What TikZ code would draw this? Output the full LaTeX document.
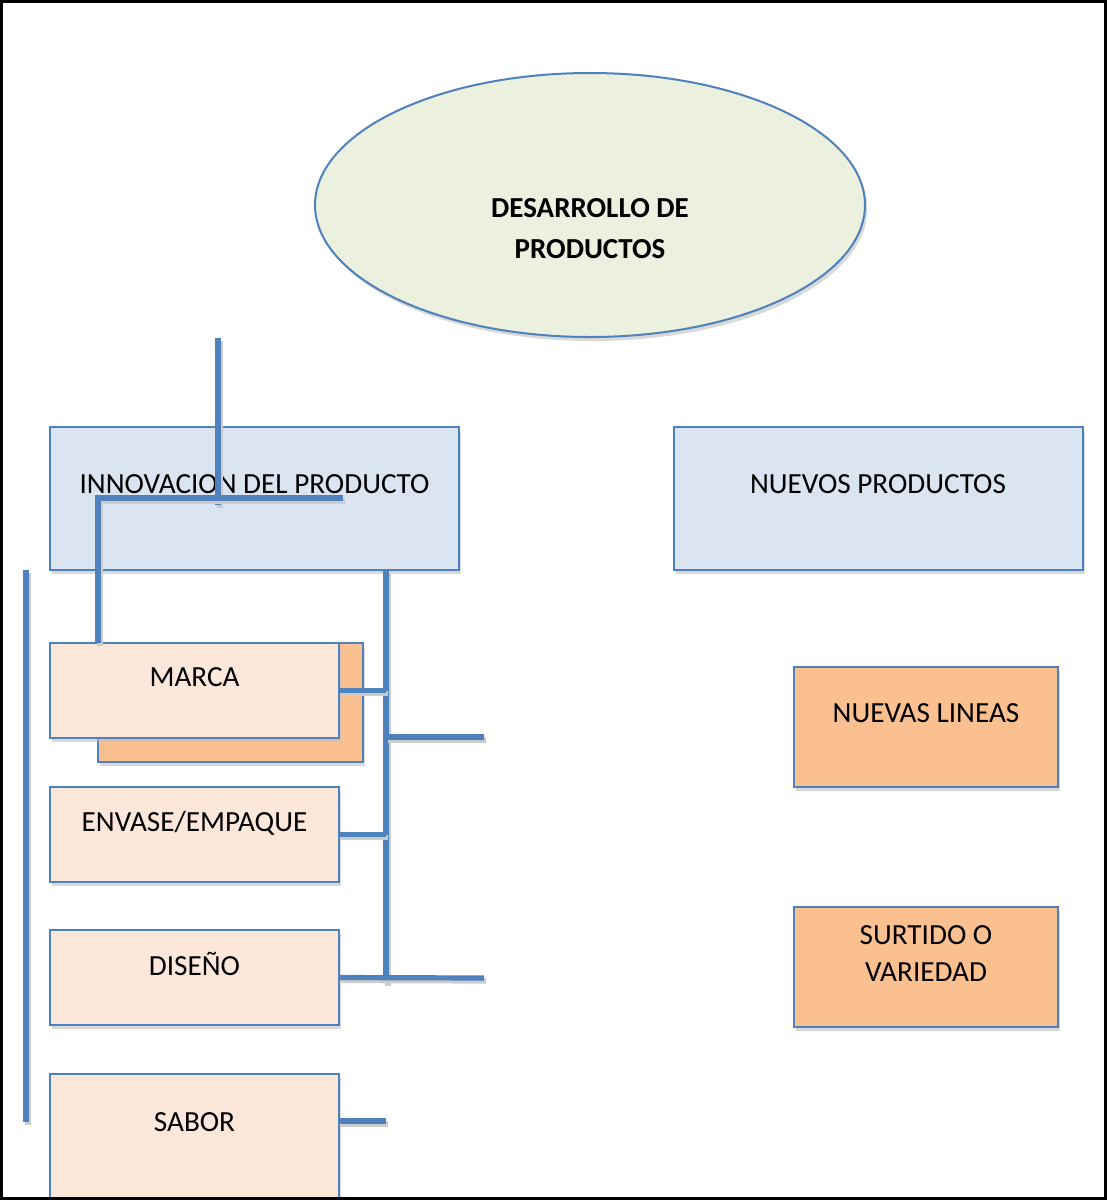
\documentclass[tikz,border=0pt]{standalone}
\usepackage{fontspec}
\setmainfont{Carlito}
\usetikzlibrary{positioning}
\usetikzlibrary{shapes.geometric}
\usetikzlibrary{shadows}
\definecolor{azul}{HTML}{4F81BD}
\definecolor{celeste}{HTML}{DBE5F1}
\definecolor{melocoton}{HTML}{FCE8DA}
\definecolor{naranja}{HTML}{FAC090}
\definecolor{verde}{HTML}{EBF1DE}
\tikzset{
  % shadow used under boxes
  sombra/.style={drop shadow={shadow xshift=1.2pt, shadow yshift=-2pt, fill=black!25, opacity=.6}},
  % the oval on top
  tema/.style={
    ellipse, draw=azul, line width=1pt, fill=verde, sombra,
    minimum width=275pt, minimum height=132pt, inner sep=0pt,
    align=center, font=\fontsize{14.5}{17.5}\selectfont\bfseries},
  % big blue boxes
  grupo/.style={
    draw=azul, line width=1pt, fill=celeste, sombra, inner sep=0pt, outer sep=0pt,
    minimum width=204.5pt, minimum height=71.5pt, align=center},
  % left column items
  hoja/.style={
    draw=azul, line width=1pt, fill=melocoton, sombra, inner sep=0pt, outer sep=0pt,
    minimum width=144.5pt, minimum height=47.5pt, align=center},
  % right column items
  extra/.style={
    draw=azul, line width=1pt, fill=naranja, sombra, inner sep=0pt, outer sep=0pt,
    minimum width=132pt, minimum height=60pt, align=center},
  % connecting lines
  rama/.style={draw=azul, line width=2.6pt,
    preaction={draw=black!20, line width=2.6pt, transform canvas={shift={(1pt,-1.5pt)}}}},
}

\begin{document}
\begin{tikzpicture}[x=0.5pt, y=-0.5pt, font=\fontsize{14.6}{17.5}\selectfont]
  \useasboundingbox (0,0) rectangle (1107,1200);

  \node[tema] (desarrollo) at (590,205) {\mbox{}\\[16pt]DESARROLLO DE\\[3pt]PRODUCTOS};

  \node[grupo] (innov)  at (254.5,498.5) {INNOVACION DEL PRODUCTO\\[-3pt]\mbox{}};
  \node[grupo] (nuevos) at (878,498.5)   {NUEVOS PRODUCTOS\\[-3pt]\mbox{}};

  \node[extra, fill=naranja, minimum width=132.5pt, minimum height=59.5pt] (marcafondo) at (230.5,702.5) {};
  \node[hoja] (marca) at (194.5,690.5) {MARCA\\[-4pt]\mbox{}};
  \node[hoja, below=24.5pt of marca]  (envase) {ENVASE/EMPAQUE\\[-4pt]\mbox{}};
  \node[hoja, below=24pt of envase]   (diseno) {DISEÑO\\[-4pt]\mbox{}};
  \node[hoja, below=24.5pt of diseno, minimum height=62pt] (sabor) {SABOR\\[-4pt]\mbox{}};

  \node[extra] (lineas)  at (926,727) {NUEVAS LINEAS\\[-4pt]\mbox{}};
  \node[extra, below=60pt of lineas] (surtido) {SURTIDO O\\[1pt]VARIEDAD\\[-4pt]\mbox{}};

  \coordinate (palo1)  at (218,338);
  \coordinate (palo2)  at (218,505);
  \coordinate (codo)   at (343,498);
  \coordinate (izq1)   at (26,570);
  \coordinate (izq2)   at (26,1122);
  \coordinate (bus1)   at (386,570);
  \coordinate (bus2)   at (386,983);
  \coordinate (suelto1) at (484,737);
  \coordinate (suelto2) at (484,978);

  \draw[rama] (palo1) -- (palo2);
  \draw[rama] (codo) -| (marcafondo.north west);
  \draw[rama] (izq1) -- (izq2);
  \draw[rama] (bus1) -- (bus2);
  \draw[rama] (marca.east) -- (marca.east -| bus1);
  \draw[rama] (suelto1 -| bus1) -- (suelto1);
  \draw[rama] (envase.east) -- (envase.east -| bus1);
  \draw[rama] (diseno.east) -- (suelto2);
  \draw[rama] ([yshift=7.5pt]sabor.east) -- ++(47,0);

  \draw[line width=1.5pt] (1.5,1.5) rectangle (1105.5,1198.5);
\end{tikzpicture}
\end{document}
